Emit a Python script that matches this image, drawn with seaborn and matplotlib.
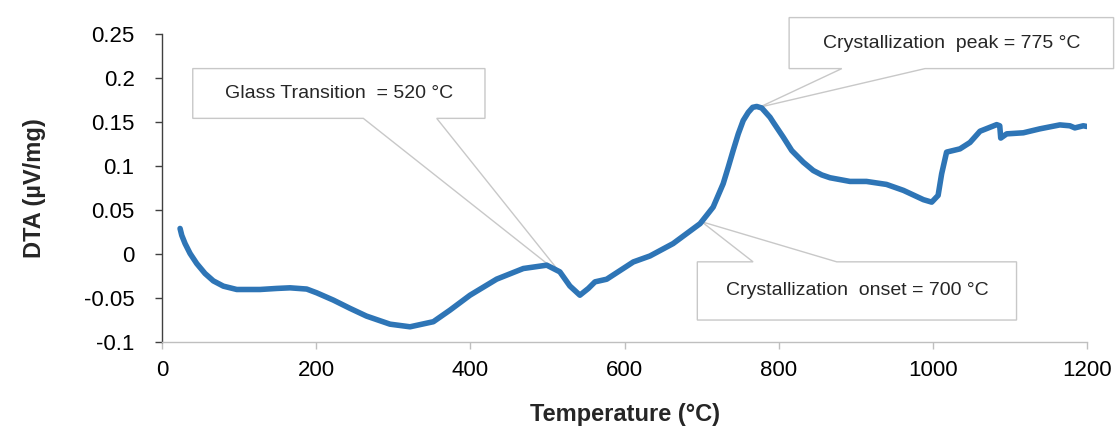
import matplotlib
matplotlib.use("Agg")
import matplotlib.pyplot as plt
from matplotlib.patches import Polygon
import numpy as np
import pandas as pd
import seaborn as sns

# DTA curve (temperature in °C, signal in µV/mg)
temperature = [23, 25.2, 29.5, 36, 44.6, 55.4, 66.2, 79.2, 96.6, 126.8, 148.5,
               165.8, 187.4, 200.4, 222, 243.6, 265, 295.5, 321.5, 351.8, 373.4,
               399.4, 434, 468.6, 499, 516, 529, 542, 553, 561.6, 576.8, 611.4,
               633, 663, 698, 706.6, 715, 728, 734.6, 741, 747.6, 754, 760.6,
               766.3, 771.5, 778, 788.8, 793, 806, 817, 819, 832, 845, 856,
               866.7, 892.6, 914, 940, 962, 988, 998.7, 1007, 1011.6, 1018,
               1035.4, 1048.4, 1061.4, 1083, 1087, 1088.3, 1096, 1117.6, 1139,
               1165, 1178, 1184.5, 1195.5, 1200]
dta = [0.029, 0.0212, 0.0118, 0.0005, -0.0109, -0.0223, -0.0307, -0.0367,
       -0.0405, -0.0405, -0.0393, -0.0386, -0.040, -0.0443, -0.0526, -0.062,
       -0.0708, -0.080, -0.083, -0.0772, -0.064, -0.047, -0.0287, -0.0166,
       -0.0128, -0.0204, -0.0365, -0.047, -0.0393, -0.0318, -0.0288, -0.0091,
       -0.0023, 0.0118, 0.0345, 0.044, 0.0534, 0.080, 0.0989, 0.118, 0.1368,
       0.152, 0.1613, 0.167, 0.168, 0.1663, 0.1557, 0.150, 0.133, 0.1178,
       0.116, 0.1045, 0.095, 0.090, 0.0868, 0.0826, 0.0826, 0.0792, 0.0724,
       0.0618, 0.059, 0.0667, 0.0913, 0.116, 0.1197, 0.127, 0.1398, 0.1473,
       0.146, 0.132, 0.1368, 0.138, 0.1425, 0.147, 0.146, 0.1436, 0.146, 0.1452]

# callouts: label text and the temperature they point at
callout_labels = ["Glass Transition  = 520 °C",
                  "Crystallization  peak = 775 °C",
                  "Crystallization  onset = 700 °C"]
callout_temps = [520, 775, 700]

x_ticks = [0, 200, 400, 600, 800, 1000, 1200]
y_ticks = [-0.1, -0.05, 0, 0.05, 0.1, 0.15, 0.2, 0.25]

df = pd.DataFrame({"Temperature": temperature, "DTA": dta})

sns.set_style("white")
plt.rcParams["font.family"] = ["Liberation Sans", "DejaVu Sans"]

fig = plt.figure(figsize=(11.15, 4.3), dpi=100)
ax = fig.add_axes([0.1456, 0.2053, 0.8291, 0.7145])

sns.lineplot(data=df, x="Temperature", y="DTA", ax=ax, color="#2e75b6",
             linewidth=4, solid_capstyle="round", solid_joinstyle="round",
             zorder=3)

ax.set_xlim(0, 1200)
ax.set_ylim(-0.1, 0.25)
ax.set_xticks(x_ticks)
ax.set_xticklabels([str(t) for t in x_ticks])
ax.set_yticks(y_ticks)
ax.set_yticklabels(["%g" % t for t in y_ticks])
ax.tick_params(axis="both", labelsize=16, labelcolor="#000000")
ax.tick_params(axis="x", bottom=True, direction="out", length=5, width=1,
               color="#bfbfbf", pad=8)
ax.tick_params(axis="y", left=True, direction="out", length=5, width=1,
               color="#404040", pad=15)

for side in ["top", "right"]:
    ax.spines[side].set_visible(False)
ax.spines["left"].set_color("#404040")
ax.spines["left"].set_linewidth(1)
ax.spines["bottom"].set_color("#bfbfbf")
ax.spines["bottom"].set_linewidth(1)

ax.set_xlabel("Temperature (°C)", fontsize=17, fontweight="bold", labelpad=16)
ax.set_ylabel("DTA (µV/mg)", fontsize=17, fontweight="bold", labelpad=27)

# Excel-style callout shapes (box in axes fraction + wedge to the curve)
boxes = [(0.0329, 0.349, 0.727, 0.889),
         (0.678, 1.029, 0.889, 1.055),
         (0.5787, 0.924, 0.0706, 0.260)]
bases = [(0.2174, 0.2968, "bottom"),
         (0.735, 0.825, "bottom"),
         (0.639, 0.7295, "top")]

to_axes = ax.transData + ax.transAxes.inverted()
for label, temp, (x0, x1, y0, y1), (b1, b2, edge) in zip(callout_labels, callout_temps, boxes, bases):
    tip = to_axes.transform((temp, np.interp(temp, temperature, dta)))
    if edge == "bottom":
        verts = [(x0, y1), (x1, y1), (x1, y0), (b2, y0), tuple(tip), (b1, y0), (x0, y0)]
    else:
        verts = [(x0, y0), (x1, y0), (x1, y1), (b2, y1), tuple(tip), (b1, y1), (x0, y1)]
    poly = Polygon(verts, closed=True, transform=ax.transAxes, facecolor="white",
                   edgecolor="#c8c8c8", linewidth=1, zorder=2, clip_on=False)
    ax.add_patch(poly)
    ax.text((x0 + x1) / 2, (y0 + y1) / 2, label, transform=ax.transAxes,
            ha="center", va="center", fontsize=14, color="#262626", zorder=4)

fig.savefig("out.png", dpi=100)
